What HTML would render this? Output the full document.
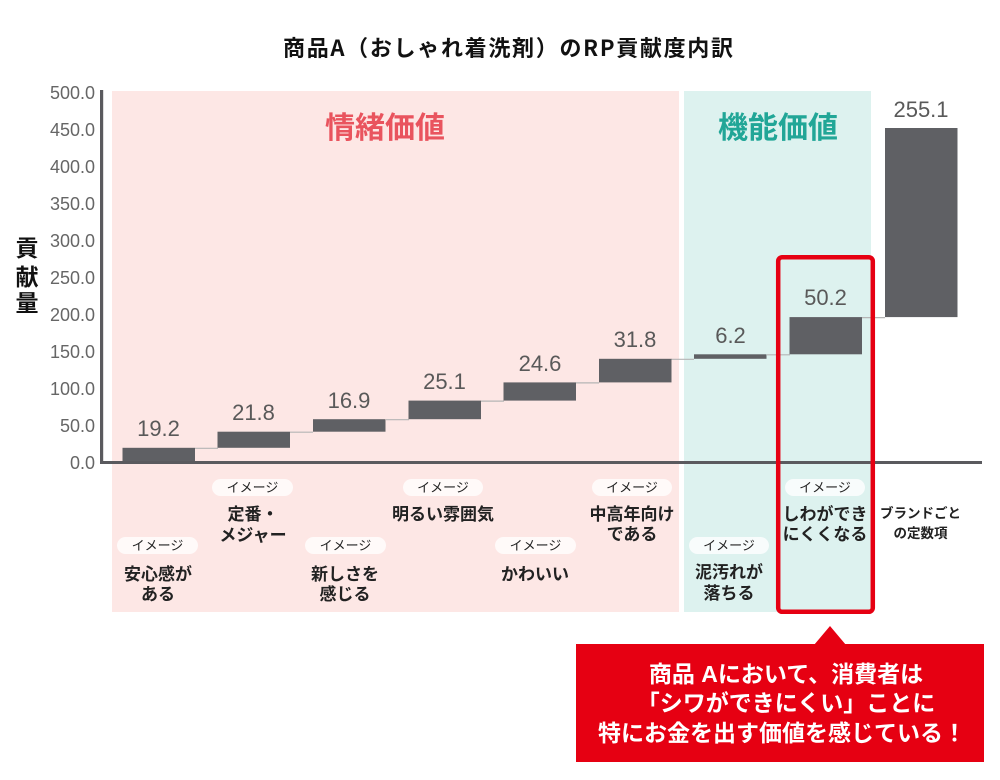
<!DOCTYPE html>
<html><head><meta charset="utf-8">
<style>
html,body{margin:0;padding:0;background:#fff;}
svg{display:block;}
text{font-family:"Liberation Sans","Noto Sans CJK JP",sans-serif;}
.jp{font-family:"Noto Sans CJK JP","Liberation Sans",sans-serif;}
</style></head>
<body>
<svg width="1000" height="780" viewBox="0 0 1000 780" xmlns="http://www.w3.org/2000/svg">
<!-- backgrounds -->
<rect x="112" y="91" width="567" height="521" fill="#fde7e5"/>
<rect x="684" y="91" width="187" height="521" fill="#ddf2ef"/>

<!-- title -->
<text x="508" y="56" text-anchor="middle" font-size="22" font-weight="bold" fill="#111" class="jp" textLength="450" lengthAdjust="spacing">商品A（おしゃれ着洗剤）のRP貢献度内訳</text>

<!-- category titles -->
<text x="385" y="138" text-anchor="middle" font-size="30" font-weight="bold" fill="#e9545e" class="jp">情緒価値</text>
<text x="778" y="138" text-anchor="middle" font-size="30" font-weight="bold" fill="#21a697" class="jp">機能価値</text>

<!-- y ticks -->
<g font-size="18" fill="#666" text-anchor="end">
<text x="95" y="99">500.0</text>
<text x="95" y="136">450.0</text>
<text x="95" y="173">400.0</text>
<text x="95" y="210">350.0</text>
<text x="95" y="247">300.0</text>
<text x="95" y="284">250.0</text>
<text x="95" y="321">200.0</text>
<text x="95" y="358">150.0</text>
<text x="95" y="395">100.0</text>
<text x="95" y="432">50.0</text>
<text x="95" y="469">0.0</text>
</g>

<!-- y axis title -->
<g font-size="23" font-weight="bold" fill="#111" text-anchor="middle" class="jp">
<text x="27" y="256">貢</text>
<text x="27" y="285">献</text>
<text x="27" y="311">量</text>
</g>

<!-- connectors -->
<g stroke="#b5b5b5" stroke-width="1.2">
<line x1="195" y1="448.3" x2="218" y2="448.3"/>
<line x1="290" y1="432.2" x2="313" y2="432.2"/>
<line x1="386" y1="419.7" x2="409" y2="419.7"/>
<line x1="481" y1="401.1" x2="504" y2="401.1"/>
<line x1="576" y1="382.9" x2="599" y2="382.9"/>
<line x1="671" y1="359.3" x2="694" y2="359.3"/>
<line x1="767" y1="354.8" x2="790" y2="354.8"/>
<line x1="862" y1="317.6" x2="885" y2="317.6"/>
</g>

<!-- bars -->
<g fill="#5f6064">
<rect x="122.5" y="447.8" width="72.5" height="14.2"/>
<rect x="217.5" y="431.7" width="72.5" height="16.1"/>
<rect x="313" y="419.2" width="72.5" height="12.5"/>
<rect x="408.5" y="400.6" width="72.5" height="18.6"/>
<rect x="503.5" y="382.4" width="72.5" height="18.2"/>
<rect x="599" y="358.8" width="72.5" height="23.6"/>
<rect x="694" y="354.3" width="72.5" height="4.5"/>
<rect x="789.5" y="317.1" width="72.5" height="37.2"/>
<rect x="885" y="128" width="72.5" height="189.1"/>
</g>

<!-- value labels -->
<g font-size="22" fill="#595959" text-anchor="middle">
<text x="158.5" y="436">19.2</text>
<text x="253.5" y="420">21.8</text>
<text x="349" y="408">16.9</text>
<text x="444.5" y="389">25.1</text>
<text x="540" y="371">24.6</text>
<text x="635" y="347">31.8</text>
<text x="730.5" y="343">6.2</text>
<text x="825.5" y="305">50.2</text>
<text x="921" y="117">255.1</text>
</g>

<!-- axes -->
<rect x="100" y="90" width="3.2" height="374" fill="#5a5a5e"/>
<rect x="100" y="461" width="882" height="3" fill="#5a5a5e"/>

<!-- pills -->
<g fill="#fff" fill-opacity="0.78">
<rect x="117" y="537" width="81" height="17" rx="8.5"/>
<rect x="212" y="479" width="81" height="17" rx="8.5"/>
<rect x="305" y="537" width="81" height="17" rx="8.5"/>
<rect x="403" y="479" width="80" height="17" rx="8.5"/>
<rect x="495" y="537" width="81" height="17" rx="8.5"/>
<rect x="592" y="479" width="80" height="17" rx="8.5"/>
<rect x="689" y="537" width="80" height="17" rx="8.5"/>
<rect x="785" y="479" width="80" height="17" rx="8.5"/>
</g>
<g font-size="13" fill="#222" text-anchor="middle" class="jp">
<text x="157.5" y="550">イメージ</text>
<text x="252.5" y="492">イメージ</text>
<text x="345.5" y="550">イメージ</text>
<text x="443" y="492">イメージ</text>
<text x="535.5" y="550">イメージ</text>
<text x="632" y="492">イメージ</text>
<text x="729" y="550">イメージ</text>
<text x="825" y="492">イメージ</text>
</g>

<!-- category labels -->
<g font-size="17" font-weight="bold" fill="#222" text-anchor="middle" class="jp">
<text x="158" y="580">安心感が</text>
<text x="158" y="600">ある</text>
<text x="253" y="520">定番・</text>
<text x="253" y="541">メジャー</text>
<text x="345" y="580">新しさを</text>
<text x="345" y="600">感じる</text>
<text x="443" y="520">明るい雰囲気</text>
<text x="535" y="580">かわいい</text>
<text x="632" y="520">中高年向け</text>
<text x="632" y="540">である</text>
<text x="729" y="578">泥汚れが</text>
<text x="729" y="599">落ちる</text>
<text x="825" y="520">しわができ</text>
<text x="825" y="540">にくくなる</text>
</g>
<g font-size="13.5" font-weight="bold" fill="#222" text-anchor="middle" class="jp">
<text x="920.5" y="518">ブランドごと</text>
<text x="920.5" y="538">の定数項</text>
</g>

<!-- highlight box -->
<rect x="778.2" y="257.2" width="94.6" height="354.6" rx="4" fill="none" stroke="#e60012" stroke-width="4.5"/>

<!-- callout -->
<polygon points="814,645 830,626 846,645" fill="#e60012"/>
<rect x="576" y="644" width="408" height="118" fill="#e60012"/>
<g font-size="23" font-weight="bold" fill="#fff" text-anchor="middle" class="jp">
<text x="786" y="682">商品 Aにおいて、消費者は</text>
<text x="786" y="711">「シワができにくい」ことに</text>
<text x="782" y="741">特にお金を出す価値を感じている！</text>
</g>
</svg>
</body></html>
